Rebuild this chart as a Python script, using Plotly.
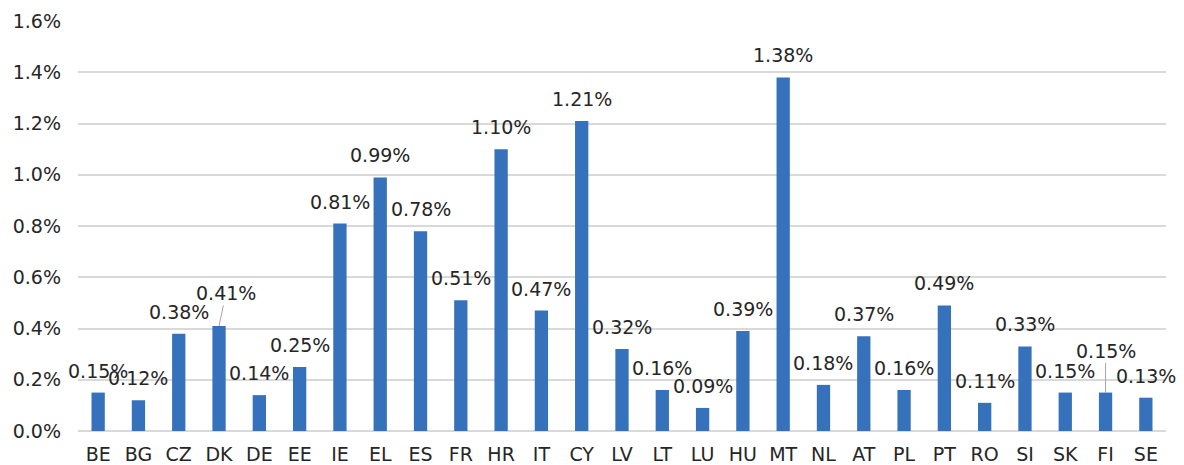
import plotly.graph_objects as go

countries = ["BE", "BG", "CZ", "DK", "DE", "EE", "IE", "EL", "ES", "FR", "HR", "IT", "CY",
             "LV", "LT", "LU", "HU", "MT", "NL", "AT", "PL", "PT", "RO", "SI", "SK", "FI", "SE"]
values = [0.15, 0.12, 0.38, 0.41, 0.14, 0.25, 0.81, 0.99, 0.78, 0.51, 1.10, 0.47, 1.21,
          0.32, 0.16, 0.09, 0.39, 1.38, 0.18, 0.37, 0.16, 0.49, 0.11, 0.33, 0.15, 0.15, 0.13]
# labels moved off the bar with a leader line: (dx, dy) in px
leader = {"DK": (7, -33), "FI": (0, -42)}

FONT = "DejaVu Sans"
TXT = "#262626"
FS = 19

fig = go.Figure(go.Bar(
    x=countries, y=values,
    marker=dict(color="#3572BB", line=dict(width=0)),
    hoverinfo="x+y",
))

for c, v in zip(countries, values):
    lab = f"{v:.2f}%"
    if c in leader:
        dx, dy = leader[c]
        fig.add_annotation(x=c, y=v, text=lab, showarrow=True, ax=dx, ay=dy,
                           arrowhead=0, arrowwidth=1, arrowcolor="#A6A6A6", standoff=0,
                           font=dict(family=FONT, size=FS, color=TXT))
    else:
        fig.add_annotation(x=c, y=v, text=lab, showarrow=False, yanchor="middle", yshift=22,
                           font=dict(family=FONT, size=FS, color=TXT))

fig.update_layout(
    width=1184, height=465,
    margin=dict(l=78, r=18, t=21, b=34),
    paper_bgcolor="white", plot_bgcolor="white",
    bargap=0.67,
    showlegend=False,
    font=dict(family=FONT, size=FS, color=TXT),
)
fig.update_yaxes(range=[0, 1.6005], dtick=0.2, tickformat=".1f", ticksuffix="%",
                 showgrid=True, gridcolor="#D9D9D9", gridwidth=1.5, zeroline=True,
                 zerolinecolor="#D9D9D9", zerolinewidth=1.5, showline=False,
                 ticks="", ticklabelstandoff=16, automargin=False,
                 tickfont=dict(size=FS, color=TXT))
# fixed category range, otherwise the label annotations pad the autorange
fig.update_xaxes(range=[-0.5, len(countries) - 0.5], showline=False, ticks="",
                 tickfont=dict(size=FS, color=TXT), ticklabelstandoff=10, automargin=False)

# drop the default page margin so the 1184x465 figure fills the window exactly
fig.write_html("out.html", config={"displayModeBar": False},
               post_script="document.body.style.margin='0';document.body.style.overflow='hidden';")
